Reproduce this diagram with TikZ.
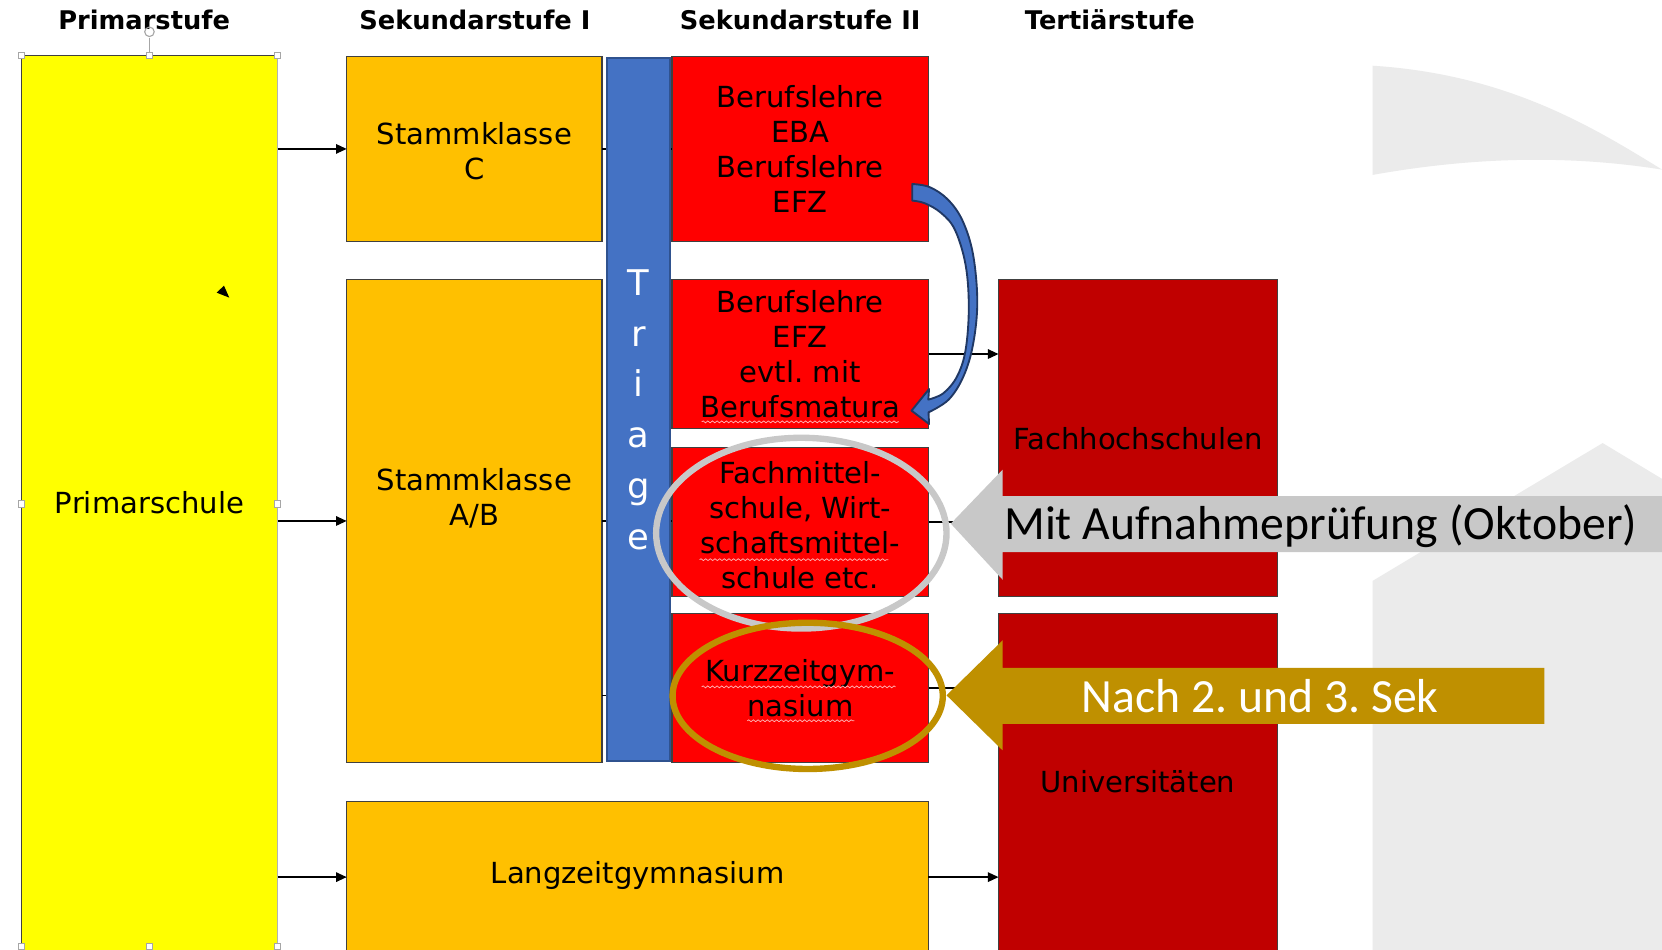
\documentclass[tikz,border=0pt]{standalone}
\usepackage{fontspec}
\setmainfont{DejaVu Sans}
\newfontfamily\calfont{Carlito}
\usetikzlibrary{arrows.meta,decorations.pathmorphing}
\definecolor{cYellow}{HTML}{FFFF00}
\definecolor{cOrange}{HTML}{FFC000}
\definecolor{cRed}{HTML}{FF0000}
\definecolor{cDark}{HTML}{C00000}
\definecolor{cBlue}{HTML}{4472C4}
\definecolor{cBlueLine}{HTML}{2F528F}
\definecolor{cNavy}{HTML}{203864}
\definecolor{cGray}{HTML}{C8C8C8}
\definecolor{cGold}{HTML}{BF9000}
\definecolor{cBg}{HTML}{EBEBEB}
\definecolor{cEdge}{HTML}{404040}
\frenchspacing
\begin{document}
\begin{tikzpicture}[x=0.02cm,y=-0.02cm,
  box/.style={draw=cEdge, line width=0.6pt, inner sep=0pt, outer sep=0pt, align=center, font=\fontsize{15.6}{18.8}\selectfont},
  txt/.style={inner sep=0pt, align=center, font=\fontsize{15.6}{18.8}\selectfont},
  conn/.style={draw=black, line width=0.7pt, -{Triangle[length=0.2cm,width=0.18cm]}},
  plainline/.style={draw=black, line width=0.7pt},
  head/.style={font=\bfseries\fontsize{13.8}{16}\selectfont, inner sep=0pt},
  handle/.style={draw=gray!70, fill=white, line width=0.5pt, minimum size=0.12cm, inner sep=0pt},
  bigtext/.style={font=\calfont\fontsize{25.6}{30}\selectfont, inner sep=0pt},
  squiggle/.style={draw=red!30!white, line width=0.4pt, decorate, decoration={snake, amplitude=0.5pt, segment length=2.5pt}}
]
\useasboundingbox (0,0) rectangle (1568,896);
\fill[white] (0,0) rectangle (1568,896);
% background shapes
\fill[cBg] (1295,62) .. controls (1420,70) and (1500,118) .. (1568,160) .. controls (1480,146) and (1390,148) .. (1295,165) -- cycle;
\fill[cBg] (1295,548) -- (1512,418) -- (1580,459) -- (1580,900) -- (1295,900) -- cycle;
% headings
\node[head] (h1) at (136,19) {Primarstufe};
\node[head] (h2) at (448,19) {Sekundarstufe I};
\node[head] (h3) at (755,19) {Sekundarstufe II};
\node[head] (h4) at (1047,19) {Tertiärstufe};
% boxes
\node[box, fill=cYellow, minimum width=4.84cm, minimum height=16.94cm] (prim) at (141,475.5) {};
\node[txt] (primt) at (141,474) {Primarschule};
\node[box, fill=cOrange, minimum width=4.82cm, minimum height=3.5cm] (stC) at (447.5,140.5) {};
\node[txt] (stCt) at (447.5,142.5) {Stammklasse\\C};
\node[box, fill=cOrange, minimum width=4.82cm, minimum height=9.1cm] (stAB) at (447.5,491.5) {};
\node[txt] (stABt) at (447.5,470) {Stammklasse\\A/B};
\node[box, fill=cOrange, minimum width=10.98cm, minimum height=2.86cm] (lang) at (601.5,827.5) {};
\node[txt] (langt) at (601.5,826) {Langzeitgymnasium};
\node[box, fill=cRed, minimum width=4.84cm, minimum height=3.5cm] (b1) at (755,140.5) {Berufslehre\\EBA\\Berufslehre\\EFZ};
\node[box, fill=cRed, minimum width=4.84cm, minimum height=2.8cm] (b2) at (755,334) {Berufslehre\\EFZ\\evtl. mit\\Berufsmatura};
\node[box, fill=cRed, minimum width=4.84cm, minimum height=2.82cm] (b3) at (755,492.5) {};
\node[txt] (b3t) at (755,495.5) {Fachmittel-\\schule, Wirt-\\schaftsmittel-\\schule etc.};
\node[box, fill=cRed, minimum width=4.84cm, minimum height=2.8cm] (b4) at (755,649) {Kurzzeitgym-\\nasium};
\node[box, fill=cDark, minimum width=5.26cm, minimum height=5.98cm] (fh) at (1073.5,413.5) {Fachhochschulen};
\node[box, fill=cDark, minimum width=5.26cm, minimum height=6.4cm] (uni) at (1073.5,739) {};
\node[txt] (unit) at (1073.5,737.5) {Universitäten};
% selection frame of Primarschule
\draw[gray!60, line width=0.6pt] (prim.north east) -- (prim.south east);
\draw[gray!70, line width=0.5pt] (prim.north) -- ++(0,-16);
\draw[gray!70, line width=0.6pt] (141,30) circle [radius=0.09cm];
\foreach \a in {north west,north,north east,west,east}
  \node[handle] at (prim.\a) {};
\foreach \a in {south west,south,south east}
  \node[handle] at ([yshift=0.12cm]prim.\a) {};
\fill[black] (204.4,276.1) -- (211.3,269.5) -- (216.3,280.8) -- cycle;
% spell-check marks
\draw[squiggle] (662,398) -- (848,398);
\draw[squiggle] (660,528) -- (838,528);
\draw[squiggle] (662,648) -- (845,648);
\draw[squiggle] (705,680) -- (806,680);
% connectors
\draw[conn] (prim.east |- stC.west) -- (stC.west);
\draw[conn] (prim.east |- stAB.west) -- (stAB.west);
\draw[conn] (prim.east |- lang.west) -- (lang.west);
\draw[conn] (lang.east) -- (lang.east -| uni.west);
\draw[conn] (b2.east) -- (b2.east -| fh.west);
\draw[conn] (b3.east) -- (b3.east -| fh.west);
\draw[conn] (b4.east) -- (b4.east -| uni.west);
\draw[plainline] (stC.east) -- (b1.west);
\draw[plainline] (stAB.east) -- (stAB.east -| b3.west);
\draw[plainline] ([yshift=-0.14cm]stAB.east |- b4.west) -- ([yshift=-0.14cm]b4.west);
% triage bar
\node[box, draw=cBlueLine, line width=1.2pt, fill=cBlue, minimum width=1.18cm, minimum height=13.26cm, text=white, font=\fontsize{19}{27.3}\selectfont] (tri) at (602.5,386.5) {T\\r\\i\\a\\g\\e};
% curved arrow
\filldraw[fill=cBlue, draw=cNavy, line width=1pt, line join=round]
  plot[smooth, tension=0.6] coordinates {(860.7,173.6) (877,176.5) (894,188) (908,208) (918,240) (922,285) (918,325) (909,355) (895,377) (876,389)}
  -- (876.5,400) -- (860,387.4) -- (876.5,367)
  -- plot[smooth, tension=0.6] coordinates {(875.8,377) (890,371) (903,355) (911,330) (914,290) (911,250) (901,217) (888,201) (872.6,191.8) (860.7,189.3)}
  -- cycle;
% ellipses
\draw[cGray, line width=0.12cm] (756,503) ellipse [x radius=2.74cm, y radius=1.8cm];
\draw[cGold, line width=0.12cm] (762,656.5) ellipse [x radius=2.55cm, y radius=1.38cm];
% big callout arrows
\fill[cGray] (897,494) -- (946,443) -- (946,468) -- (1580,468) -- (1580,521) -- (946,521) -- (946,547) -- cycle;
\node[bigtext] (mit) at (1246,496) {Mit Aufnahmeprüfung (Oktober)};
\fill[cGold] (893,656) -- (946,604) -- (946,630) -- (1457,630) -- (1457,683) -- (946,683) -- (946,708) -- cycle;
\node[bigtext, text=white] (nach) at (1189,657) {Nach 2. und 3. Sek};
\end{tikzpicture}
\end{document}
